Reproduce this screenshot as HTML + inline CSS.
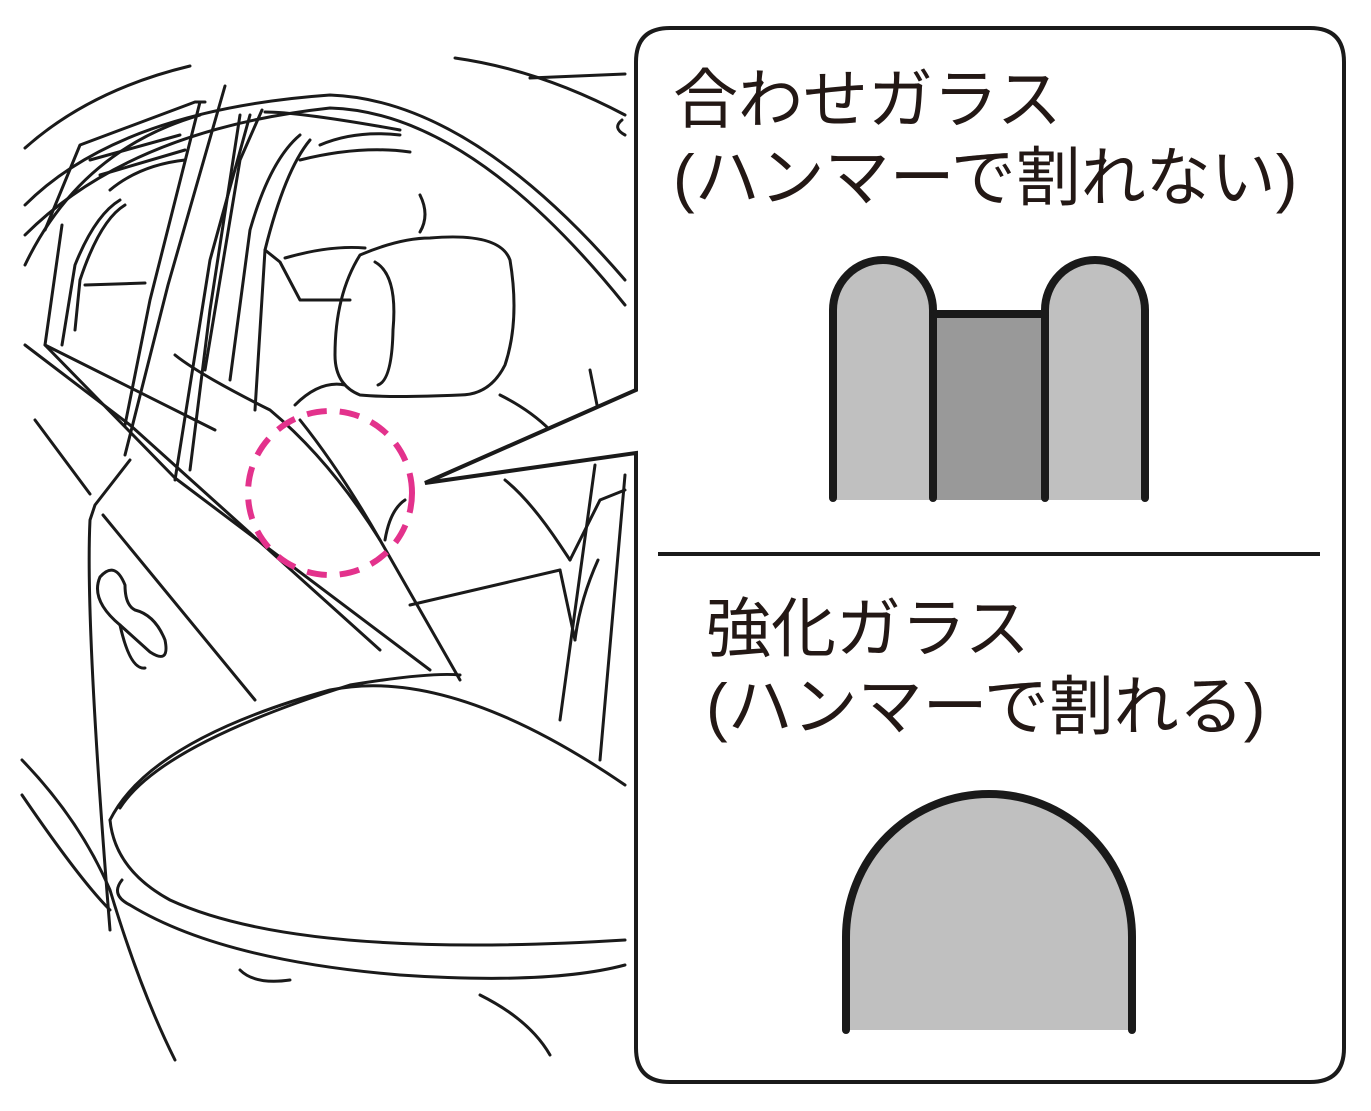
<!DOCTYPE html>
<html><head><meta charset="utf-8"><style>
html,body{margin:0;padding:0;background:#fff;}
svg{display:block;}
text{font-family:"Liberation Sans","Noto Sans CJK JP",sans-serif;fill:#231815;}
</style></head><body>
<svg width="1371" height="1111" viewBox="0 0 1371 1111" xmlns="http://www.w3.org/2000/svg">
<g fill="none" stroke="#1a1a1a" stroke-width="3" stroke-linecap="round" stroke-linejoin="round">
<!-- roof arcs -->
<path d="M25,148 Q90,90 190,66"/>
<path d="M25,205 Q120,110 330,95 Q470,100 625,280"/>
<path d="M25,235 Q130,130 330,108 Q470,112 625,305"/>
<path d="M25,265 Q80,150 200,115"/>
<path d="M455,58 Q540,70 625,115"/>
<path d="M530,78 L625,74"/>
<path d="M622,120 Q612,128 625,135"/>
<!-- rear window frame -->
<path d="M45,230 L80,145 L195,102 L205,102"/>
<path d="M90,160 L180,135"/>
<path d="M100,175 L185,150"/>
<path d="M110,190 Q140,165 185,160"/>
<path d="M62,225 L45,345 L215,430"/>
<path d="M62,345 L75,265 Q95,215 120,200"/>
<path d="M75,330 L80,280 Q100,220 125,205"/>
<path d="M85,285 L145,283"/>
<!-- B pillar -->
<path d="M225,86 L168,285 L125,455"/>
<path d="M200,102 L150,300 L125,425"/>
<path d="M250,115 L210,260 L175,480"/>
<path d="M262,110 L240,160 L205,370"/>
<path d="M265,112 Q300,112 400,130"/>
<!-- front window frame inner lines -->
<path d="M240,115 L210,310 L190,470"/>
<path d="M300,135 Q270,160 250,230 L230,380"/>
<path d="M310,140 Q285,170 265,250 L255,410"/>
<path d="M320,145 Q355,130 400,135"/>
<path d="M300,160 Q360,145 410,152"/>
<!-- belt lines -->
<path d="M25,345 L130,425 L380,650"/>
<path d="M45,345 L175,478 L430,670"/>
<path d="M35,420 L90,494"/>
<path d="M103,515 L255,700"/>
<path d="M130,460 L95,505 L90,520 Q85,620 110,930"/>
<!-- door handle -->
<path d="M100,577 Q90,600 120,625 L150,652 Q170,665 165,640 Q155,615 135,610 Q125,605 125,585 Q115,560 100,577Z"/>
<path d="M120,625 Q130,670 145,668"/>
<!-- seat / headrest -->
<path d="M265,250 L280,262 L300,300 L350,300"/>
<path d="M285,258 Q330,245 365,248"/>
<path d="M360,255 Q400,238 430,238 Q500,232 510,260 Q520,320 505,365 Q490,395 460,395 Q390,398 360,395 Q335,385 335,355 Q335,295 360,255Z"/>
<path d="M375,262 Q398,275 393,330 Q392,380 378,385"/>
<path d="M420,195 Q430,215 420,232"/>
<path d="M500,395 Q530,410 550,430"/>
<path d="M590,370 L600,420 L595,440"/>
<path d="M295,405 Q320,380 345,385"/>
<!-- seat back / B pillar -->
<path d="M175,355 Q200,375 270,410 Q330,460 380,540 L460,680"/>
<path d="M300,420 Q340,470 380,540"/>
<path d="M385,540 Q390,510 405,500"/>
<path d="M505,480 Q530,500 560,545 L570,560"/>
<path d="M410,605 L560,570"/>
<path d="M560,570 L575,640"/>
<path d="M570,560 L600,500 L625,490"/>
<path d="M595,465 L560,720"/>
<path d="M625,475 L600,760"/>
<path d="M575,640 Q580,600 598,560"/>
<!-- mirror -->
<path d="M110,820 Q150,740 330,690 Q450,665 625,785"/>
<path d="M120,808 Q160,745 350,685 Q430,672 460,675"/>
<path d="M110,820 Q115,870 170,900 Q300,960 625,940"/>
<path d="M122,880 Q110,895 130,905 Q220,960 400,975 Q550,985 625,965"/>
<path d="M240,970 Q255,985 290,980"/>
<path d="M480,995 Q530,1020 550,1055"/>
<!-- bottom left lines -->
<path d="M22,760 Q80,820 110,890 Q140,990 175,1060"/>
<path d="M22,795 Q80,880 110,910"/>
</g>
<circle cx="330" cy="493" r="82" fill="none" stroke="#e3328c" stroke-width="6" stroke-dasharray="20 13"/>
<path d="M670,28 L1310,28 Q1344,28 1344,62 L1344,1048 Q1344,1082 1310,1082 L670,1082 Q636,1082 636,1048 L636,453 L425,483 L636,390 L636,62 Q636,28 670,28Z" fill="#fff" stroke="#1a1a1a" stroke-width="4" stroke-linejoin="miter"/>
<line x1="658" y1="554" x2="1320" y2="554" stroke="#1a1a1a" stroke-width="4"/>
<text x="673" y="122" font-size="65">合わせガラス</text>
<text x="673" y="200" font-size="65">(ハンマーで割れない)</text>
<text x="706" y="651" font-size="65">強化ガラス</text>
<text x="706" y="729" font-size="65">(ハンマーで割れる)</text>
<rect x="935" y="314" width="110" height="186" fill="#999"/>
<path d="M833,500 L833,310 A50,50 0 0 1 933,310 L933,500Z" fill="#c0c0c0"/>
<path d="M1045,500 L1045,310 A50,50 0 0 1 1145,310 L1145,500Z" fill="#c0c0c0"/>
<g fill="none" stroke="#1a1a1a" stroke-width="8" stroke-linecap="round">
<path d="M833,498 L833,310 A50,50 0 0 1 933,310 L933,498"/>
<path d="M1045,498 L1045,310 A50,50 0 0 1 1145,310 L1145,498"/>
<line x1="935" y1="314" x2="1045" y2="314"/>
</g>
<path d="M846,1030 L846,937 A143,143 0 0 1 1132,937 L1132,1030Z" fill="#c0c0c0"/>
<path d="M846,1030 L846,937 A143,143 0 0 1 1132,937 L1132,1030" fill="none" stroke="#1a1a1a" stroke-width="8" stroke-linecap="round"/>
</svg>
</body></html>
